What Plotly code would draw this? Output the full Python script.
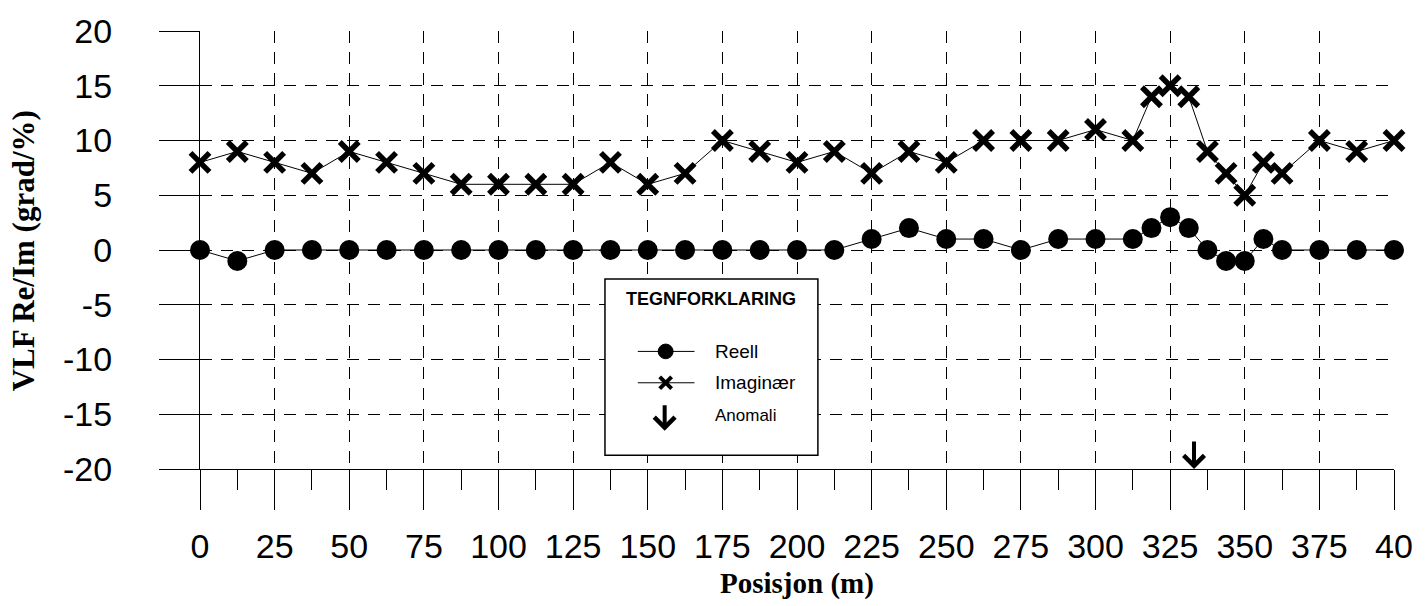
import plotly.graph_objects as go

# ---------------- data ----------------
posisjon = [0, 12.5, 25, 37.5, 50, 62.5, 75, 87.5, 100, 112.5, 125, 137.5, 150,
            162.5, 175, 187.5, 200, 212.5, 225, 237.5, 250, 262.5, 275, 287.5,
            300, 312.5, 318.75, 325, 331.25, 337.5, 343.75, 350, 356.25, 362.5,
            375, 387.5, 400]
reell = [0, -1, 0, 0, 0, 0, 0, 0, 0, 0, 0, 0, 0, 0, 0, 0, 0, 0,
         1, 2, 1, 1, 0, 1, 1, 1, 2, 3, 2, 0, -1, -1, 1, 0, 0, 0, 0]
imaginaer = [8, 9, 8, 7, 9, 8, 7, 6, 6, 6, 6, 8, 6, 7, 10, 9, 8, 9,
             7, 9, 8, 10, 10, 10, 11, 10, 14, 15, 14, 9, 7, 5, 8, 7, 10, 9, 10]
anomali_pos = [333]

x_tickvals = [0, 25, 50, 75, 100, 125, 150, 175, 200, 225, 250, 275, 300, 325, 350, 375, 400]
x_ticktext = ["0", "25", "50", "75", "100", "125", "150", "175", "200", "225", "250",
              "275", "300", "325", "350", "375", "40"]
y_tickvals = [-20, -15, -10, -5, 0, 5, 10, 15, 20]
y_ticktext = ["-20", "-15", "-10", "-5", "0", "5", "10", "15", "20"]

# ---------------- layout geometry ----------------
W, H = 1425, 606
ML, MR, MT, MB = 200, 25, 22, 137
PW, PH = W - ML - MR, H - MT - MB


def px(xp):
    return (xp - ML) / PW


def py(yp):
    return (H - MB - yp) / PH


SANS = "Liberation Sans, Arial, sans-serif"
SERIF = "Liberation Serif, Times New Roman, serif"

fig = go.Figure()

fig.add_trace(go.Scatter(
    x=posisjon, y=imaginaer, mode="lines+markers", name="Imaginær",
    line=dict(color="black", width=1),
    marker=dict(symbol="x-thin", size=19, color="black",
                line=dict(color="black", width=5.5)),
    cliponaxis=False, showlegend=False))

fig.add_trace(go.Scatter(
    x=posisjon, y=reell, mode="lines+markers", name="Reell",
    line=dict(color="black", width=1),
    marker=dict(symbol="circle", size=20, color="black"),
    cliponaxis=False, showlegend=False))

grid_dash = "12px,9px"

fig.update_xaxes(
    range=[0, 400], tickmode="array", tickvals=x_tickvals, ticktext=x_ticktext,
    ticks="outside", ticklen=40, tickwidth=1.2, tickcolor="black",
    showline=True, linecolor="black", linewidth=1.2,
    showgrid=True, gridcolor="black", gridwidth=1, griddash=grid_dash,
    zeroline=False, tickfont=dict(family=SANS, size=34, color="black"),
    ticklabelstandoff=7,
    minor=dict(tickmode="linear", tick0=0, dtick=12.5, ticks="outside",
               ticklen=20, tickwidth=1.2, tickcolor="black", showgrid=False),
)
fig.update_yaxes(
    range=[-20, 20], tickmode="array", tickvals=y_tickvals, ticktext=y_ticktext,
    ticks="outside", ticklen=40, tickwidth=1.2, tickcolor="black",
    showline=True, linecolor="black", linewidth=1.2,
    showgrid=True, gridcolor="black", gridwidth=1, griddash=grid_dash,
    zeroline=False, tickfont=dict(family=SANS, size=34, color="black"),
    ticklabelstandoff=40,
)

shapes = []
annotations = []

# axis titles
annotations.append(dict(text="<b>Posisjon (m)</b>", xref="paper", yref="paper",
                        x=0.5, y=py(586), xanchor="center", yanchor="middle",
                        showarrow=False, font=dict(family=SERIF, size=29, color="black")))
annotations.append(dict(text="<b>VLF Re/Im (grad/%)</b>", xref="paper", yref="paper",
                        x=px(23), y=py(246), xanchor="center", yanchor="middle",
                        textangle=-90, showarrow=False,
                        font=dict(family=SERIF, size=31, color="black")))

# anomaly arrow on the axis
for a in anomali_pos:
    annotations.append(dict(text="", x=a, y=-20, xref="x", yref="y",
                            ax=0, ay=-29, showarrow=True, arrowhead=4,
                            arrowsize=1, arrowwidth=4, arrowcolor="black"))

# manual legend box
shapes.append(dict(type="rect", xref="paper", yref="paper",
                   x0=px(607), x1=px(821), y0=py(455), y1=py(275),
                   fillcolor="white", line=dict(color="black", width=1.5), layer="above"))
annotations.append(dict(text="<b>TEGNFORKLARING</b>", xref="paper", yref="paper",
                        x=px(714), y=py(296), xanchor="center", yanchor="middle",
                        showarrow=False, font=dict(family=SANS, size=18, color="black")))

# Reell row
shapes.append(dict(type="line", xref="paper", yref="paper",
                   x0=px(640), x1=px(697), y0=py(349), y1=py(349),
                   line=dict(color="black", width=1), layer="above"))
shapes.append(dict(type="circle", xref="paper", yref="paper",
                   x0=px(660.5), x1=px(675.5), y0=py(356.5), y1=py(341.5),
                   fillcolor="black", line=dict(color="black", width=1), layer="above"))
annotations.append(dict(text="Reell", xref="paper", yref="paper",
                        x=px(716), y=py(349), xanchor="left", yanchor="middle",
                        showarrow=False, font=dict(family=SANS, size=19, color="black")))

# Imaginær row
shapes.append(dict(type="line", xref="paper", yref="paper",
                   x0=px(640), x1=px(697), y0=py(381), y1=py(381),
                   line=dict(color="black", width=1), layer="above"))
for (x0, y0, x1, y1) in [(662, 375, 674, 387), (662, 387, 674, 375)]:
    shapes.append(dict(type="line", xref="paper", yref="paper",
                       x0=px(x0), x1=px(x1), y0=py(y0), y1=py(y1),
                       line=dict(color="black", width=4), layer="above"))
annotations.append(dict(text="Imaginær", xref="paper", yref="paper",
                        x=px(716), y=py(381), xanchor="left", yanchor="middle",
                        showarrow=False, font=dict(family=SANS, size=19, color="black")))

# Anomali row
annotations.append(dict(text="", xref="paper", yref="paper",
                        x=px(667), y=py(430), ax=0, ay=-27, showarrow=True,
                        arrowhead=4, arrowsize=1, arrowwidth=4, arrowcolor="black"))
annotations.append(dict(text="Anomali", xref="paper", yref="paper",
                        x=px(716), y=py(414), xanchor="left", yanchor="middle",
                        showarrow=False, font=dict(family=SANS, size=17, color="black")))

fig.update_layout(
    width=W, height=H,
    margin=dict(l=ML, r=MR, t=MT, b=MB),
    paper_bgcolor="white", plot_bgcolor="white",
    showlegend=False,
    shapes=shapes, annotations=annotations,
)

fig.write_html("out.html")
